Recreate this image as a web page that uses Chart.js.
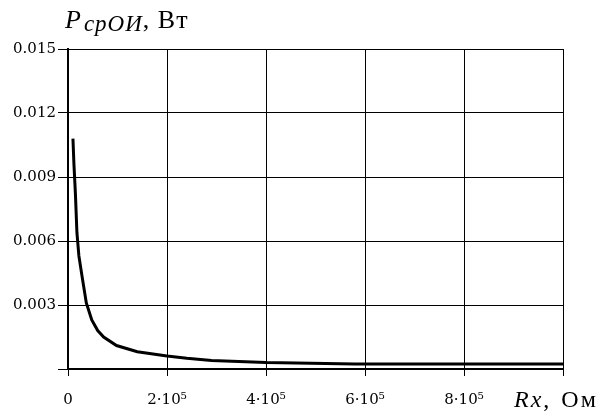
<!DOCTYPE html>
<html>
<head>
<meta charset="utf-8">
<script src="https://cdn.jsdelivr.net/npm/chart.js@4/dist/chart.umd.min.js"></script>
<style>
  html, body { margin: 0; padding: 0; background: #fff; }
  #chart { display: block; }
</style>
</head>
<body>
<canvas id="chart" width="610" height="412"></canvas>
<script>
// resistance Rx, Ohm
var resistance = [10000, 12000, 15000, 18000, 22000, 28000, 37000, 48000, 60000, 72000,
  98000, 140000, 200000, 240000, 290000, 400000, 580000, 1000000];
// average power P, W
var power = [0.0108, 0.0096, 0.0082, 0.0064, 0.0053, 0.0044, 0.0031, 0.0023, 0.0018, 0.0015,
  0.0011, 0.00081, 0.00061, 0.0005, 0.0004, 0.0003, 0.00023, 0.00023];

var xTicks = [0, 200000, 400000, 600000, 800000, 1000000];
var xTickLabels = ['0', '2·10⁵', '4·10⁵', '6·10⁵', '8·10⁵', ''];
// no label at y = 0, the x axis "0" stands there
var yTickLabels = ['', '0.003', '0.006', '0.009', '0.012', '0.015'];

var points = resistance.map(function(r, i) {
  return { x: r, y: power[i] };
});

// draws text pieces one after another, each with its own font and baseline shift
function drawPieces(ctx, x, y, pieces) {
  pieces.forEach(function(p) {
    ctx.font = p.font;
    ctx.letterSpacing = p.spacing || '0px';
    ctx.fillText(p.text, x, y + (p.dy || 0));
    x += ctx.measureText(p.text).width + (p.gap || 0);
  });
}

var axisTitles = {
  id: 'axisTitles',
  afterDraw: function(chart) {
    var ctx = chart.ctx;
    ctx.save();
    ctx.fillStyle = '#000';
    ctx.textBaseline = 'alphabetic';
    ctx.textAlign = 'left';

    drawPieces(ctx, 65, 28, [
      { text: 'P', font: 'italic 26px "Liberation Serif"', gap: 3 },
      { text: 'срОИ', font: 'italic 23px "Liberation Serif"', dy: 3, spacing: '1px', gap: 0 },
      { text: ', Вт', font: '26px "Liberation Serif"', spacing: '1px' }
    ]);

    drawPieces(ctx, 514, 407, [
      { text: 'Rx', font: 'italic 24px "Liberation Serif"', spacing: '2px' },
      { text: ', ', font: '24px "Liberation Serif"', spacing: '2px', gap: 2 },
      { text: 'Ом', font: '24px "Liberation Serif"', spacing: '2px' }
    ]);
    ctx.restore();
  }
};

Chart.defaults.font.family = '"DejaVu Serif"';
Chart.defaults.color = '#000';

new Chart(document.getElementById('chart').getContext('2d'), {
  type: 'line',
  data: {
    datasets: [{
      data: points,
      borderColor: '#000',
      borderWidth: 3,
      pointRadius: 0,
      tension: 0,
      fill: false
    }]
  },
  options: {
    responsive: false,
    animation: false,
    layout: { padding: { top: 49, right: 47, left: 0, bottom: 0 } },
    plugins: {
      legend: { display: false },
      tooltip: { enabled: false }
    },
    scales: {
      x: {
        type: 'linear',
        min: 0,
        max: 1000000,
        afterFit: function(s) { s.height = 43; },
        afterBuildTicks: function(s) {
          s.ticks = xTicks.map(function(v) { return { value: v }; });
        },
        ticks: {
          autoSkip: false,
          maxRotation: 0,
          padding: 15,
          font: { size: 15 },
          callback: function(v) { return xTickLabels[xTicks.indexOf(v)]; }
        },
        grid: { color: '#000', lineWidth: 1, tickLength: 7, tickColor: '#000' },
        border: { color: '#000', width: 2 }
      },
      y: {
        min: 0,
        max: 0.015,
        afterFit: function(s) { s.width = 68; },
        ticks: {
          stepSize: 0.003,
          padding: 2,
          font: { size: 15 },
          callback: function(v, i) { return yTickLabels[i]; }
        },
        grid: { color: '#000', lineWidth: 1, tickLength: 10, tickColor: '#000' },
        border: { color: '#000', width: 2 }
      }
    }
  },
  plugins: [axisTitles]
});
</script>
</body>
</html>
